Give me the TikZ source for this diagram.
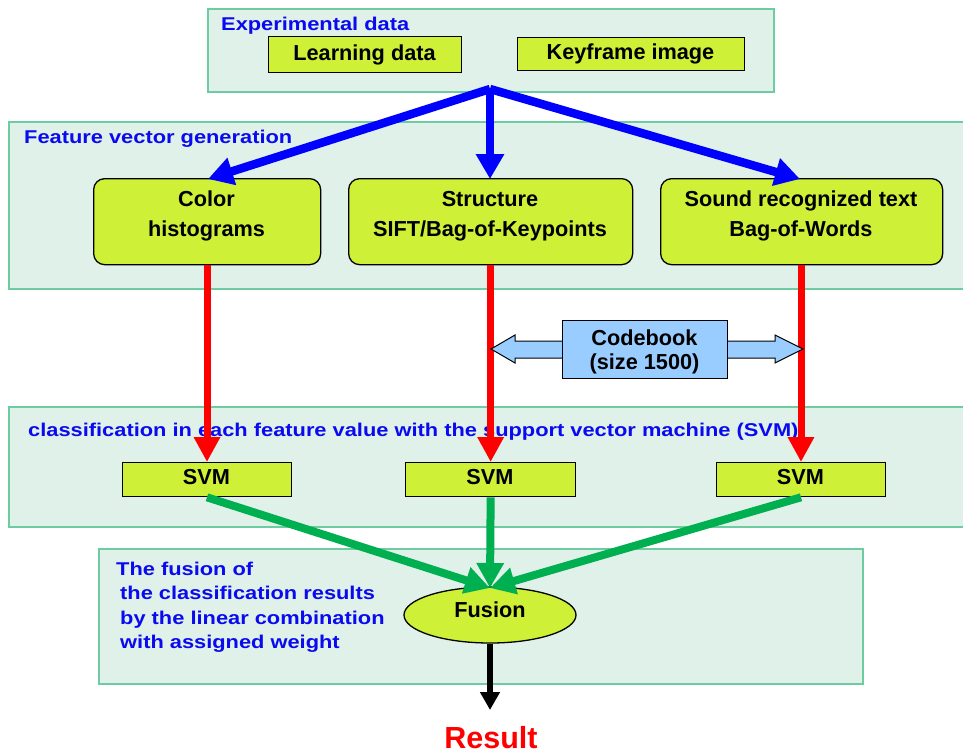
\documentclass[tikz,border=0pt]{standalone}
\usepackage{fontspec}
\setmainfont{Liberation Sans}
\newfontfamily\widefont[FakeStretch=1.18]{Liberation Sans}
\usetikzlibrary{arrows.meta,shapes.geometric}
\definecolor{panelfill}{RGB}{223,241,232}
\definecolor{paneldraw}{RGB}{110,205,160}
\definecolor{boxfill}{RGB}{206,240,55}
\definecolor{cbfill}{RGB}{153,204,255}
\definecolor{lblue}{RGB}{10,10,240}
\definecolor{agreen}{RGB}{0,176,80}
\definecolor{ared}{RGB}{255,0,0}
\begin{document}
\begin{tikzpicture}[x=1pt,y=-1pt,
  panel/.style={draw=paneldraw,line width=1.5pt,fill=panelfill,anchor=north west,inner sep=0pt},
  flat/.style={draw=black,line width=1.3pt,fill=boxfill,inner sep=0pt,anchor=north west},
  rbox/.style={draw=black,line width=1.3pt,fill=boxfill,rounded corners=11pt,inner sep=0pt,anchor=north west},
  btext/.style={anchor=base,inner sep=0pt,font=\fontsize{21.7}{26}\selectfont\bfseries},
  plabel/.style={anchor=base west,text=lblue,inner sep=0pt,font=\fontsize{18.5}{24}\widefont\bfseries},
  bluearrow/.style={draw=blue,line width=8.5pt,-{Triangle[length=25pt,width=27pt]}},
  redarrow/.style={draw=ared,line width=7pt,-{Triangle[length=25pt,width=25pt]}},
  greenarrow/.style={draw=agreen,line width=8pt,-{Triangle[length=25pt,width=26pt]}},
  blackarrow/.style={draw=black,line width=6pt,-{Triangle[length=18pt,width=19pt]}}
]
\useasboundingbox (0,0) rectangle (963,753);
% panels
\node[panel,minimum width=566pt,minimum height=83pt] (pexp) at (207,8) {};
\node[panel,minimum width=955pt,minimum height=167pt] (pfeat) at (8,121) {};
\node[panel,minimum width=955pt,minimum height=120pt] (pcls) at (8,406) {};
\node[panel,minimum width=764pt,minimum height=135pt] (pfus) at (98,548) {};
% panel labels
\node[plabel] (lexp) at (221,30) {Experimental data};
\node[plabel] (lfeat) at (24,143) {Feature vector generation};
\node[plabel] (lcls) at (28,436) {classification in each feature value with the support vector machine (SVM)};
\node[plabel] (lfus1) at (116,575) {The fusion of};
\node[plabel] (lfus2) at (120,599.5) {the classification results};
\node[plabel] (lfus3) at (120,624) {by the linear combination};
\node[plabel] (lfus4) at (120,648) {with assigned weight};
% top boxes
\node[flat,minimum width=193pt,minimum height=36pt] (learn) at (268,36) {};
\node[btext] (tlearn) at (364.5,60) {Learning data};
\node[flat,minimum width=227pt,minimum height=33pt] (key) at (517,37) {};
\node[btext] (tkey) at (630.5,59) {Keyframe image};
\coordinate (src) at (490,89);
% feature boxes
\node[rbox,minimum width=227pt,minimum height=86pt] (color) at (93,178) {};
\node[btext] (tcolor1) at (206.5,206) {Color};
\node[btext] (tcolor2) at (206.5,236) {histograms};
\node[rbox,minimum width=284pt,minimum height=86pt] (struct) at (348,178) {};
\node[btext] (tstruct1) at (490,206) {Structure};
\node[btext] (tstruct2) at (490,236) {SIFT/Bag-of-Keypoints};
\node[rbox,minimum width=282pt,minimum height=86pt] (sound) at (660,178) {};
\node[btext] (tsound1) at (801,206) {Sound recognized text};
\node[btext] (tsound2) at (801,236) {Bag-of-Words};
% svm boxes
\node[flat,minimum width=169pt,minimum height=34pt] (svm1) at (122,462) {};
\node[flat,minimum width=170pt,minimum height=34pt] (svm2) at (405,462) {};
\node[flat,minimum width=169pt,minimum height=34pt] (svm3) at (716,462) {};
\node[btext] (tsvm1) at (206.5,484) {SVM};
\node[btext] (tsvm2) at (490,484) {SVM};
\node[btext] (tsvm3) at (800.5,484) {SVM};
% fusion ellipse
\node[ellipse,draw=black,line width=1.3pt,fill=boxfill,minimum width=172pt,minimum height=56pt,inner sep=0pt] (fusion) at (490,615) {};
\node[btext] (tfusion) at (490,617) {Fusion};
\node[anchor=base,text=ared,font=\fontsize{30.5}{34}\selectfont\bfseries,inner sep=0pt] (result) at (491,748) {Result};
% blue arrows
\draw[bluearrow] (src) -- (208,179);
\draw[bluearrow] (src) -- (490,179);
\draw[bluearrow] (src) -- (800,179);
% red arrows
\draw[redarrow] (color.south -| 207,0) -- (svm1.north -| 207,0);
\draw[redarrow] (struct.south) -- (svm2.north);
\draw[redarrow] (sound.south -| 801,0) -- (svm3.north -| 801,0);
% codebook double arrow
\draw[draw=black,line width=1pt,fill=cbfill] (491,349) -- (515,335) -- (515,341) -- (775,341) -- (775,335) -- (803,349) -- (775,363) -- (775,358) -- (515,358) -- (515,363) -- cycle;
\node[draw=black,line width=1.3pt,fill=cbfill,minimum width=165pt,minimum height=58pt,inner sep=0pt,anchor=north west] (cb) at (562,320) {};
\node[btext] (tcb1) at (644.5,345) {Codebook};
\node[btext] (tcb2) at (644.5,369) {(size 1500)};
% green arrows
\coordinate (ftop) at (490,588);
\draw[greenarrow] (svm1.south -| 207,0) -- (ftop);
\draw[greenarrow] (svm2.south) -- (ftop);
\draw[greenarrow] (svm3.south -| 801,0) -- (ftop);
% black arrow
\draw[blackarrow] (fusion.south) -- (490,710);
\end{tikzpicture}
\end{document}
